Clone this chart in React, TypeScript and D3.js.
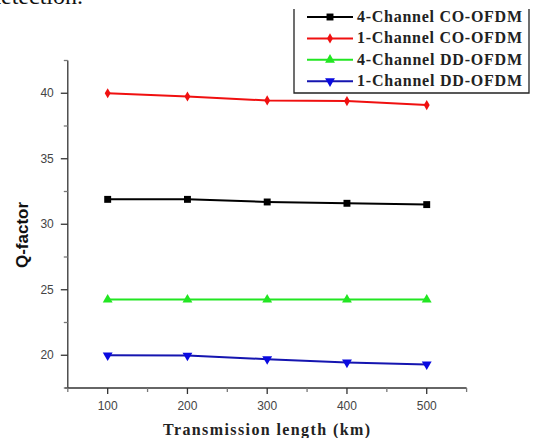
import React, { useRef, useEffect } from 'react';
import * as d3 from 'd3';

const lengths = [100, 200, 300, 400, 500];
const co4 = [31.9, 31.9, 31.7, 31.6, 31.5];
const co1 = [40.0, 39.75, 39.45, 39.4, 39.1];
const dd4 = [24.25, 24.25, 24.25, 24.25, 24.25];
const dd1 = [20.0, 19.98, 19.7, 19.45, 19.3];
const seriesNames = ['4-Channel CO-OFDM', '1-Channel CO-OFDM', '4-Channel DD-OFDM', '1-Channel DD-OFDM'];
const xTicks = [100, 200, 300, 400, 500];
const yTicks = [20, 25, 30, 35, 40];

const App = () => {
  const svgRef = useRef(null);

  useEffect(() => {
    const width = 536;
    const height = 438;
    const svg = d3.select(svgRef.current).attr('width', width).attr('height', height);
    svg.selectAll('*').remove();

    const x = d3.scaleLinear().domain([50, 550]).range([67.8, 466.6]);
    const y = d3.scaleLinear().domain([17.5, 42.5]).range([388, 60.5]);

    const series = [
      { name: seriesNames[0], values: co4, color: '#000000', line: '#000000', marker: d3.symbolSquare, size: 48, rot: 0 },
      { name: seriesNames[1], values: co1, color: '#f01010', line: '#f01010', marker: d3.symbolDiamond, size: 30, rot: 0 },
      { name: seriesNames[2], values: dd4, color: '#22e622', line: '#22e622', marker: d3.symbolTriangle, size: 42, rot: 0 },
      { name: seriesNames[3], values: dd1, color: '#0a0ae0', line: '#1515b0', marker: d3.symbolTriangle, size: 42, rot: 180 }
    ];

    // text from the page above the figure
    svg.append('text')
      .attr('x', -11).attr('y', 4)
      .attr('font-family', 'Liberation Serif, Times New Roman, serif')
      .attr('font-size', 24)
      .attr('fill', '#111')
      .text('detection.');

    // axes
    const ax = svg.append('g').attr('stroke', '#333').attr('stroke-width', 1.3).attr('fill', 'none');
    ax.append('line').attr('x1', x(50)).attr('x2', x(50)).attr('y1', y(42.5)).attr('y2', y(17.5));
    ax.append('line').attr('x1', x(50) - 3).attr('x2', x(550)).attr('y1', y(17.5)).attr('y2', y(17.5));

    xTicks.forEach(t => {
      ax.append('line').attr('x1', x(t)).attr('x2', x(t)).attr('y1', y(17.5)).attr('y2', y(17.5) + 6);
    });
    d3.range(50, 551, 100).forEach(t => {
      ax.append('line').attr('x1', x(t)).attr('x2', x(t)).attr('y1', y(17.5)).attr('y2', y(17.5) + 4)
        .attr('stroke', '#777');
    });
    yTicks.forEach(t => {
      ax.append('line').attr('x1', x(50) - 7).attr('x2', x(50)).attr('y1', y(t)).attr('y2', y(t));
    });
    d3.range(17.5, 43, 5).forEach(t => {
      ax.append('line').attr('x1', x(50) - 4).attr('x2', x(50)).attr('y1', y(t)).attr('y2', y(t))
        .attr('stroke', '#777');
    });

    svg.append('g').selectAll('text').data(xTicks).enter().append('text')
      .attr('x', d => x(d)).attr('y', y(17.5) + 22)
      .attr('text-anchor', 'middle')
      .attr('font-family', 'Liberation Sans, Arial, sans-serif')
      .attr('font-size', 12).attr('fill', '#444')
      .text(d => d);

    svg.append('g').selectAll('text').data(yTicks).enter().append('text')
      .attr('x', x(50) - 14).attr('y', d => y(d) + 4)
      .attr('text-anchor', 'end')
      .attr('font-family', 'Liberation Sans, Arial, sans-serif')
      .attr('font-size', 12).attr('fill', '#444')
      .text(d => d);

    svg.append('text')
      .attr('transform', 'translate(28,235) rotate(-90)')
      .attr('text-anchor', 'middle')
      .attr('font-family', 'Liberation Sans, Arial, sans-serif')
      .attr('font-weight', 'bold').attr('font-size', 17).attr('fill', '#111')
      .text('Q-factor');

    svg.append('text')
      .attr('x', 163).attr('y', 435)
      .attr('textLength', 207).attr('lengthAdjust', 'spacing')
      .attr('font-family', 'Liberation Serif, Times New Roman, serif')
      .attr('font-weight', 'bold').attr('font-size', 16).attr('fill', '#222')
      .text('Transmission length (km)');

    // series
    const line = d3.line<number>().x((d, i) => x(lengths[i])).y(d => y(d));
    series.forEach(s => {
      svg.append('path').datum(s.values)
        .attr('d', line)
        .attr('fill', 'none').attr('stroke', s.line).attr('stroke-width', 2);
      svg.append('g').selectAll('path').data(s.values).enter().append('path')
        .attr('d', d3.symbol().type(s.marker).size(s.size))
        .attr('transform', (d, i) => `translate(${x(lengths[i])},${y(d)}) rotate(${s.rot})`)
        .attr('fill', s.color);
    });

    // legend
    const lg = svg.append('g');
    lg.append('path')
      .attr('d', 'M294,9 V93 H529 V9')
      .attr('fill', 'none').attr('stroke', '#222').attr('stroke-width', 1.3);
    series.forEach((s, i) => {
      const cy = 17 + i * 21.4;
      lg.append('line').attr('x1', 307).attr('x2', 353).attr('y1', cy).attr('y2', cy)
        .attr('stroke', s.line).attr('stroke-width', 2);
      lg.append('path')
        .attr('d', d3.symbol().type(s.marker).size(s.size))
        .attr('transform', `translate(330,${cy}) rotate(${s.rot})`)
        .attr('fill', s.color);
      lg.append('text')
        .attr('x', 357).attr('y', cy + 5)
        .attr('textLength', 165).attr('lengthAdjust', 'spacing')
        .attr('font-family', 'Liberation Serif, Times New Roman, serif')
        .attr('font-weight', 'bold').attr('font-size', 16).attr('fill', '#222')
        .text(s.name);
    });
  }, []);

  return (
    <svg ref={svgRef} style={{ position: 'absolute', left: 0, top: 0, background: '#fff' }}></svg>
  );
};

export default App;
